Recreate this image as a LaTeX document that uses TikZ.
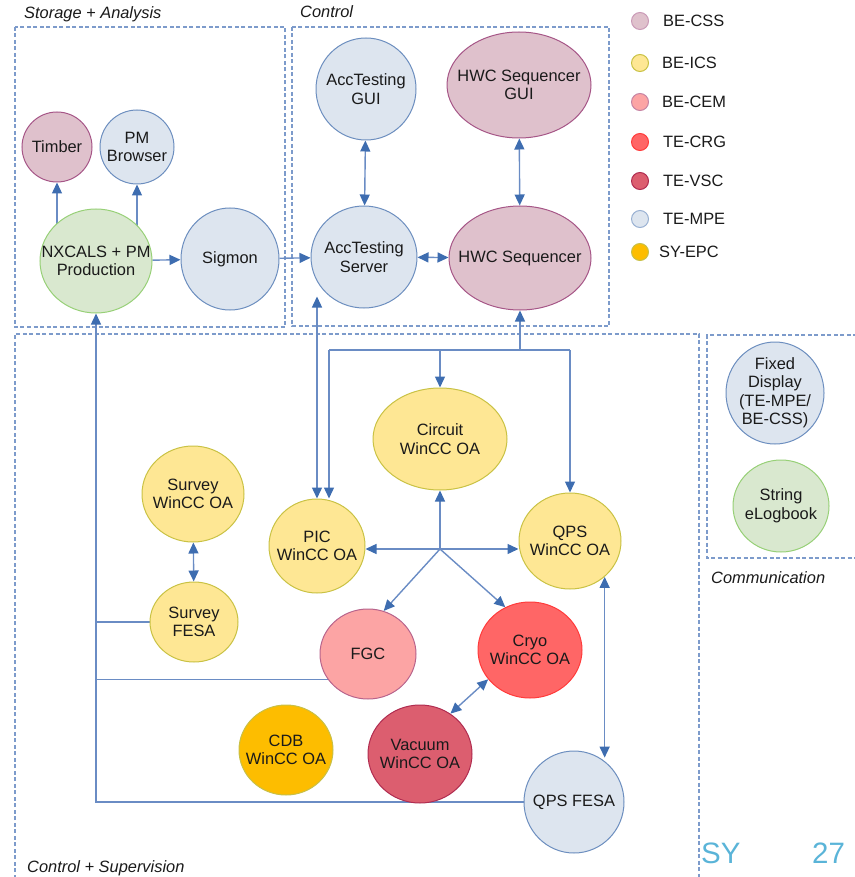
\documentclass[tikz,border=0pt]{standalone}
\usepackage{fontspec}
\setmainfont{Liberation Sans}
\usetikzlibrary{shapes.geometric,arrows.meta,backgrounds,calc}
\definecolor{txt}{HTML}{1A1A1A}
\definecolor{lineblue}{HTML}{6A8CC4}
\definecolor{tipblue}{HTML}{3E6DB0}
\definecolor{boxblue}{HTML}{7D9BCB}
\definecolor{cssF}{HTML}{DFC1CC}\definecolor{cssD}{HTML}{A65687}
\definecolor{icsF}{HTML}{FEE794}\definecolor{icsD}{HTML}{C9C244}
\definecolor{cemF}{HTML}{FCA4A4}\definecolor{cemD}{HTML}{B8648C}
\definecolor{crgF}{HTML}{FF6666}\definecolor{crgD}{HTML}{FF3B3B}
\definecolor{vscF}{HTML}{DC5E6F}\definecolor{vscD}{HTML}{B02C50}
\definecolor{mpeF}{HTML}{DDE5EF}\definecolor{mpeD}{HTML}{6C8EBF}
\definecolor{epcF}{HTML}{FDBD00}\definecolor{epcD}{HTML}{C8C048}
\definecolor{grnF}{HTML}{D9E8CF}\definecolor{grnD}{HTML}{97D077}
\definecolor{syblue}{HTML}{5AB4D8}
\begin{document}
\begin{tikzpicture}[x=1pt,y=-1pt,
  bub/.style={ellipse, draw, line width=1pt, inner sep=0pt},
  lbl/.style={align=center, font=\fontsize{16.4}{18.5}\selectfont, text=txt, inner sep=0pt},
  grp/.style={font=\fontsize{16.4}{18.5}\selectfont\itshape, text=txt, inner sep=0pt, anchor=west},
  legtxt/.style={font=\fontsize{16.4}{18.5}\selectfont, text=txt, inner sep=0pt, anchor=west},
  legdot/.style={circle, draw, line width=1pt, minimum size=17pt, inner sep=0pt},
  boxline/.style={draw=boxblue, line width=1.2pt, dash pattern=on 4pt off 2.5pt},
  conn/.style={draw=lineblue, line width=1.4pt},
  oneway/.style={conn, -{Triangle[length=11pt,width=10pt,color=tipblue]}},
  twoway/.style={conn, {Triangle[length=11pt,width=10pt,color=tipblue]}-{Triangle[length=11pt,width=10pt,color=tipblue]}}
]
\useasboundingbox (0,0) rectangle (854,877);

% group labels
\node[grp] (lsa) at (24,14) {Storage + Analysis};
\node[grp] (lctl) at (300,12) {Control};
\node[grp] (lcs) at (27,868) {Control + Supervision};
\node[grp] (lcom) at (711,578) {Communication};

% nodes
\newcommand{\bubble}[8]{\node[bub, fill=#6F, draw=#6D, minimum width=#4pt, minimum height=#5pt, label={[lbl]center:{#7}}] (#1) at (#2,#3) {};}
\bubble{timber}{57}{147}{70}{70}{css}{Timber}{}
\bubble{pmb}{137}{147}{74}{74}{mpe}{PM\\Browser}{}
\bubble{nx}{96}{261}{112}{104}{grn}{NXCALS + PM\\Production}{}
\bubble{sig}{230}{259}{98}{102}{mpe}{Sigmon}{}
\bubble{agui}{366}{89}{100}{102}{mpe}{AccTesting\\GUI}{}
\bubble{hgui}{519}{85}{144}{106}{css}{HWC Sequencer\\GUI}{}
\bubble{ats}{364}{257}{106}{102}{mpe}{AccTesting\\Server}{}
\bubble{hwc}{520}{258}{142}{104}{css}{HWC Sequencer}{}
\bubble{swin}{193}{494}{102}{96}{ics}{Survey\\WinCC OA}{}
\bubble{sfesa}{194}{622}{88}{80}{ics}{Survey\\FESA}{}
\bubble{pic}{317}{546}{96}{94}{ics}{PIC\\WinCC OA}{}
\bubble{circ}{440}{439}{134}{102}{ics}{Circuit\\WinCC OA}{}
\bubble{qps}{570}{541}{102}{96}{ics}{QPS\\WinCC OA}{}
\bubble{fgc}{368}{654}{96}{90}{cem}{FGC}{}
\bubble{cryo}{530}{650}{104}{96}{crg}{Cryo\\WinCC OA}{}
\bubble{cdb}{286}{750}{94}{90}{epc}{CDB\\WinCC OA}{}
\bubble{vac}{420}{754}{104}{98}{vsc}{Vacuum\\WinCC OA}{}
\bubble{qpsf}{574}{802}{100}{102}{mpe}{QPS FESA}{}
\bubble{fixd}{775}{393}{98}{102}{mpe}{Fixed\\Display\\(TE-MPE/\\BE-CSS)}{}
\bubble{slog}{781}{506}{96}{92}{grn}{String\\eLogbook}{}

% legend
\node[legdot, fill=cssF, draw=cssD!60] (d1) at (640,21) {};
\node[legdot, fill=icsF, draw=icsD] (d2) at (640,63) {};
\node[legdot, fill=cemF, draw=cemD!80] (d3) at (640,102) {};
\node[legdot, fill=crgF, draw=crgD] (d4) at (640,142) {};
\node[legdot, fill=vscF, draw=vscD] (d5) at (640,181) {};
\node[legdot, fill=mpeF, draw=mpeD!70] (d6) at (640,219) {};
\node[legdot, fill=epcF, draw=epcD] (d7) at (640,252) {};
\node[legtxt] (t1) at (663,21) {BE-CSS};
\node[legtxt] (t2) at (662,63) {BE-ICS};
\node[legtxt] (t3) at (662,102) {BE-CEM};
\node[legtxt] (t4) at (663,142) {TE-CRG};
\node[legtxt] (t5) at (663,181) {TE-VSC};
\node[legtxt] (t6) at (663,219) {TE-MPE};
\node[legtxt] (t7) at (659,252) {SY-EPC};

% page marks
\node[anchor=base west, inner sep=0pt, text=syblue, font=\fontsize{29.5}{30}\selectfont] (sy) at (701,863) {SY};
\node[anchor=base west, inner sep=0pt, text=syblue, font=\fontsize{29.5}{30}\selectfont] (pg) at (812,863) {27};

\begin{scope}[on background layer]
% group boxes
\draw[boxline] (15,27) rectangle (285,327);
\draw[boxline] (292,27) rectangle (609,326);
\draw[boxline] (15,885) -- (15,334) -- (699,334) -- (699,885);
\draw[boxline] (870,335) -- (707,335) -- (707,558) -- (870,558);

% storage + analysis
\draw[oneway] (timber |- nx) -- (timber.south);
\draw[oneway] (pmb |- nx) -- (pmb.south);
\draw[oneway] (nx) -- (sig);
\draw[oneway] (sig) -- (ats);

% control
\draw[twoway] (agui) -- (ats);
\draw[twoway] (hgui) -- (hwc);
\draw[twoway] (ats) -- (hwc);

% trunk to NXCALS
\draw[oneway] (qpsf.west) -| (nx.south);
\draw[conn] (sfesa.west) -- (sfesa.west -| nx.south);
\draw[conn] (fgc.212) -- (fgc.212 -| nx.south);

% AccTesting <-> PIC
\draw[twoway] (pic.north) -- ($(ats.south -| pic.north)+(0,-12)$);

% bus from HWC Sequencer
\coordinate (busL) at (329,350);
\coordinate (busR) at (qps.north |- busL);
\draw[conn] (busL) -- (busR);
\draw[oneway] (busL) -- (busL |- pic.north);
\draw[oneway] (busR) -- (qps.north);
\draw[oneway] (circ.north |- busL) -- (circ.north);
\draw[oneway] (hwc.south |- busL) -- (hwc.south);

% hub
\coordinate (hub) at (440,549);
\draw[oneway] (hub) -- (circ.south);
\draw[oneway] (hub) -- (hub -| pic.east);
\draw[oneway] (hub) -- (hub -| qps.west);
\draw[oneway] (hub) -- (fgc.70);
\draw[oneway] (hub) -- (cryo.120);

% other links
\draw[twoway] (swin) -- (sfesa);
\draw[twoway] (cryo.215) -- (vac.53);
\draw[twoway] (qps.314) -- (qps.314 |- qpsf.60);
\end{scope}
\end{tikzpicture}
\end{document}
